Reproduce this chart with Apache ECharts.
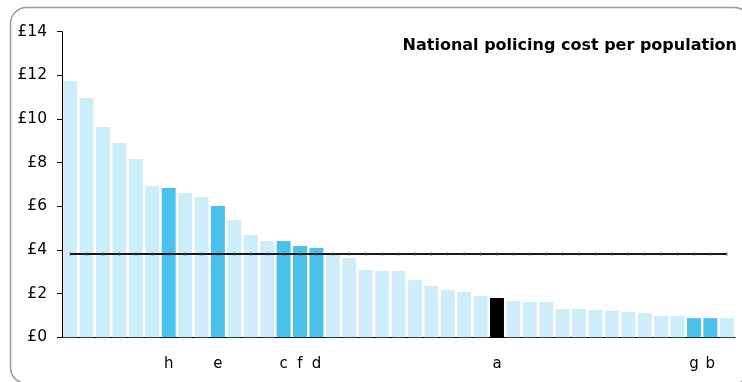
<!DOCTYPE html>
<html>
<head>
<meta charset="utf-8">
<script src="https://cdn.jsdelivr.net/npm/echarts@6/dist/echarts.min.js"></script>
<style>
  html, body { margin: 0; padding: 0; background: #fff; }
  #chart { width: 742px; height: 382px; }
</style>
</head>
<body>
<div id="chart"></div>
<script>
  // force labels, blank where the reference shows none
  const forceLabels = ['', '', '', '', '', '', 'h', '', '', 'e', '', '', '', 'c', 'f', 'd', '', '', '', '', '',
    '', '', '', '', '', 'a', '', '', '', '', '', '', '', '', '', '', '', 'g', 'b', ''];
  // cost per population, £
  const costValues = [11.74, 10.96, 9.63, 8.90, 8.17, 6.94, 6.84, 6.61, 6.43, 6.01, 5.37, 4.69, 4.41, 4.41, 4.18,
    4.09, 3.77, 3.63, 3.08, 3.04, 3.04, 2.62, 2.35, 2.17, 2.08, 1.89, 1.80, 1.66, 1.62, 1.62, 1.30, 1.30, 1.25,
    1.21, 1.16, 1.11, 0.98, 0.98, 0.88, 0.88, 0.88];
  const nationalAverage = 3.82;
  const yTicks = [0, 2, 4, 6, 8, 10, 12, 14];

  const lightBlue = '#cdedf9';
  const midBlue = '#4ac2eb';
  const highlighted = ['h', 'e', 'c', 'f', 'd', 'g', 'b'];
  const font = 'DejaVu Sans';

  const barData = costValues.map((v, i) => {
    let color = lightBlue;
    if (forceLabels[i] === 'a') color = '#000000';
    else if (highlighted.indexOf(forceLabels[i]) >= 0) color = midBlue;
    return { value: v, itemStyle: { color: color } };
  });

  const chart = echarts.init(document.getElementById('chart'), null, { renderer: 'canvas' });
  chart.setOption({
    animation: false,
    backgroundColor: '#fff',
    title: {
      text: 'National policing cost per population',
      right: 0,
      top: 33,
      textStyle: { fontFamily: font, fontWeight: 'bold', fontSize: 16, color: '#000' }
    },
    graphic: [{
      type: 'rect',
      left: 8,
      top: 5,
      shape: { width: 740, height: 376, r: 16 },
      style: { fill: 'none', stroke: '#999', lineWidth: 1.5 },
      z: -1
    }],
    grid: { left: 62, right: 7, top: 31.7, bottom: 44.7 },
    xAxis: {
      type: 'category',
      data: forceLabels,
      axisLine: { lineStyle: { color: '#000', width: 1 } },
      axisTick: { show: false },
      axisLabel: {
        interval: 0,
        margin: 19,
        color: '#000',
        fontFamily: font,
        fontSize: 15
      }
    },
    yAxis: {
      type: 'value',
      min: yTicks[0],
      max: yTicks[yTicks.length - 1],
      interval: 2,
      splitLine: { show: false },
      axisLine: { show: true, lineStyle: { color: '#000', width: 1 } },
      axisTick: { show: true, length: 5, lineStyle: { color: '#000' } },
      axisLabel: {
        margin: 15,
        color: '#000',
        fontFamily: font,
        fontSize: 15.5,
        formatter: v => '£' + v
      }
    },
    series: [
      {
        type: 'bar',
        data: barData,
        barCategoryGap: '15%',
        silent: true
      },
      {
        type: 'line',
        data: costValues.map(() => nationalAverage),
        symbol: 'rect',
        symbolSize: [1, 3],
        showSymbol: true,
        itemStyle: { color: '#444' },
        lineStyle: { color: '#1a1a1a', width: 2 },
        silent: true,
        z: 5
      }
    ]
  });
</script>
</body>
</html>
